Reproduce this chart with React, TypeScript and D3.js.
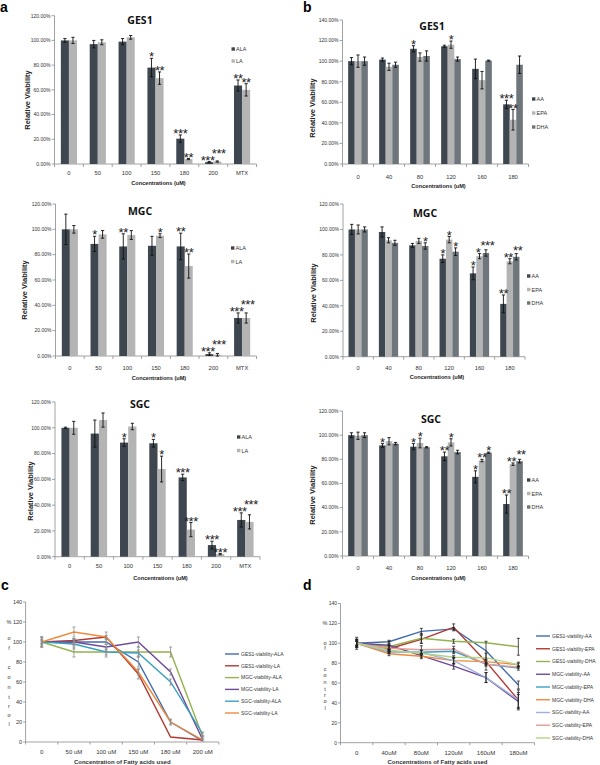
import React from "react";
import * as d3 from "d3";

// ---------- DATA ----------
const catsA = ["0", "50", "100", "150", "180", "200", "MTX"];
const catsB = ["0", "40", "80", "120", "160", "180"];
const catsC = ["0", "50 uM", "100 uM", "150 uM", "180 uM", "200 uM"];
const catsD = ["0", "40uM", "80uM", "120uM", "160uM", "180uM"];

// panel a – GES1
const gesALA = [100, 97, 99, 78, 20.5, 1.5, 63.5];
const gesALAerr = [1.5, 3, 2.5, 7.5, 3, 0.5, 4.5];
const gesALAstar = ["", "", "", "*", "***", "***", "**"];
const gesLA = [100, 98.5, 102.5, 69.5, 4, 2, 60];
const gesLAerr = [2.5, 2, 1.5, 5, 0.5, 0.5, 5];
const gesLAstar = ["", "", "", "**", "**", "***", "**"];
// panel a – MGC
const mgcALA = [100, 88.5, 86.5, 87, 86.5, 1.5, 30];
const mgcALAerr = [12, 6, 10, 7.5, 10.5, 1, 4];
const mgcALAstar = ["", "*", "**", "", "**", "***", "***"];
const mgcLA = [100, 96, 95.5, 95, 71, 1, 30];
const mgcLAerr = [3, 3, 3.5, 1.5, 9.5, 1, 4];
const mgcLAstar = ["", "", "", "*", "**", "***", "***"];
// panel a – SGC
const sgcALA = [100, 95.5, 88.5, 88, 61.5, 9, 28.5];
const sgcALAerr = [0.5, 10.5, 3, 3, 2.5, 3, 5.5];
const sgcALAstar = ["", "", "*", "*", "***", "***", "***"];
const sgcLA = [100, 106, 101, 68, 21, 2, 27];
const sgcLAerr = [5, 5.5, 2.5, 10, 5.5, 0.5, 5.5];
const sgcLAstar = ["", "", "", "*", "***", "***", "***"];

// panel b – GES1
const gesAA = [100, 101.5, 112, 114.5, 92.5, 58];
const gesAAerr = [3.5, 1.5, 3, 1, 9.5, 4];
const gesAAstar = ["", "", "*", "", "", "***"];
const gesEPA = [100, 94.5, 104, 116, 81.5, 43];
const gesEPAerr = [6, 3.5, 4, 3.5, 8.5, 10];
const gesEPAstar = ["", "", "", "*", "", "**"];
const gesDHA = [100, 96.5, 105, 102, 100.5, 96.5];
const gesDHAerr = [4, 2.5, 5, 2, 0.5, 8.5];
const gesDHAstar = ["", "", "", "", "", ""];
// panel b – MGC
const mgcAA = [100, 98, 87.5, 77, 65.5, 41.5];
const mgcAAerr = [4, 4, 1.5, 3, 5, 7];
const mgcAAstar = ["", "", "", "*", "*", "**"];
const mgcEPA = [100, 91.5, 91, 92, 79, 75];
const mgcEPAerr = [3.5, 2, 2, 2.5, 2, 2];
const mgcEPAstar = ["", "", "", "*", "*", "**"];
const mgcDHA = [100, 89.5, 87, 82.5, 81.5, 78.5];
const mgcDHAerr = [2, 2, 2.5, 3, 2.5, 2.5];
const mgcDHAstar = ["", "", "*", "*", "***", "**"];
// panel b – SGC
const sgcAA = [100, 91.5, 90.5, 82.5, 65.5, 43];
const sgcAAerr = [2, 1.5, 2.5, 3.5, 5, 7.5];
const sgcAAstar = ["", "*", "*", "**", "*", "**"];
const sgcEPA = [99.5, 95, 93.5, 94, 79, 76];
const sgcEPAerr = [3, 3, 4, 3, 1, 1];
const sgcEPAstar = ["", "", "*", "*", "**", "**"];
const sgcDHA = [100, 93, 90, 86, 85.5, 78.5];
const sgcDHAerr = [2, 1, 0.5, 1.5, 0.5, 1.5];
const sgcDHAstar = ["", "", "", "", "*", "**"];

// panel c – line chart
const cGesALA = [100, 100, 100, 80, 20, 1];
const cGesALAerr = [5, 3, 2.5, 5, 3, 0.5];
const cGesLA = [100, 101.5, 105, 68, 5, 2];
const cGesLAerr = [2, 2, 1.5, 5, 0.5, 0.5];
const cMgcALA = [100, 90, 90, 90, 90, 5];
const cMgcALAerr = [5, 5, 5, 5, 5, 1];
const cMgcLA = [100, 100, 95, 100, 70, 2];
const cMgcLAerr = [3, 3, 3, 5, 3, 1];
const cSgcALA = [100, 98, 90, 89, 60, 8];
const cSgcALAerr = [1, 5, 3, 3, 3, 2];
const cSgcLA = [100, 110, 105, 70, 20, 2];
const cSgcLAerr = [5, 5, 5, 3, 2, 0.5];

// ---------- STYLE ----------
const SANS = "'Liberation Sans', Arial, sans-serif";
const TITLE = "'Open Sans', 'Liberation Sans', sans-serif";
const DARK = "#3e474f";
const LIGHT = "#b4b4b4";
const MID = "#6e757b";
const AXIS = "#8a8a8a";
const STAR_FS = 13;
const STAR_W = 4.6;

type BarSeries = { name: string; values: number[]; errors: number[]; stars: string[]; color: string };

function BarPanel(p: {
  cats: string[]; series: BarSeries[]; x0: number; x1: number; yZero: number; yTop: number; yMax: number;
  title: string; titleX: number; titleY: number; legX: number; legY: number; legGap: number;
  ylabX: number; ylabY: number; tickY: number; xlabY: number; groupFrac: number;
}) {
  const x = d3.scaleBand<string>().domain(p.cats).range([p.x0, p.x1]);
  const y = d3.scaleLinear().domain([0, p.yMax]).range([p.yZero, p.yTop]);
  const ticks = d3.range(0, p.yMax + 0.01, 20);
  const gw = x.bandwidth() * p.groupFrac;
  const inner = d3.scaleBand<string>().domain(p.series.map((s) => s.name)).range([0, gw]);
  const fmt = (v: number) => d3.format(".2f")(v) + "%";

  // star placement with simple collision avoidance inside each group
  const starMarks: { key: string; x: number; y: number; t: string }[] = [];
  p.cats.forEach((c, i) => {
    const placed: { l: number; r: number; y: number; m: { x: number } }[] = [];
    p.series.forEach((s) => {
      const t = s.stars[i];
      if (!t) return;
      const bx = x(c)! + (x.bandwidth() - gw) / 2 + inner(s.name)!;
      let cx = bx + inner.bandwidth() / 2;
      let cy = y(s.values[i] + s.errors[i]) - 4.5;
      const w = t.length * STAR_W;
      const l = cx - w / 2 + 1.2;
      const r = cx + w / 2 - 1.2;
      placed.forEach((q) => {
        if (l < q.r && r > q.l && Math.abs(cy - q.y) < 7) {
          cy = q.y - 7;
          cx += 1.5;
          q.m.x -= 1.5;
        }
      });
      const m = { key: s.name + c, x: cx, y: cy, t };
      placed.push({ l, r, y: cy, m });
      starMarks.push(m);
    });
  });

  return (
    <g>
      {/* y axis */}
      <line x1={p.x0} x2={p.x0} y1={p.yZero} y2={p.yTop} stroke={AXIS} strokeWidth={0.8} />
      {ticks.map((t) => (
        <g key={t}>
          <line x1={p.x0 - 3} x2={p.x0} y1={y(t)} y2={y(t)} stroke={AXIS} strokeWidth={0.8} />
          <text x={p.x0 - 4} y={y(t) + 1.8} fontSize={5} fontFamily={SANS} textAnchor="end" fill="#333">
            {fmt(t)}
          </text>
        </g>
      ))}
      {/* x axis */}
      <line x1={p.x0} x2={p.x1} y1={p.yZero} y2={p.yZero} stroke={AXIS} strokeWidth={0.8} />
      {p.cats.map((c, i) => (
        <line key={"xt" + i} x1={x(c)!} x2={x(c)!} y1={p.yZero} y2={p.yZero + 3} stroke={AXIS} strokeWidth={0.8} />
      ))}
      <line x1={p.x1} x2={p.x1} y1={p.yZero} y2={p.yZero + 3} stroke={AXIS} strokeWidth={0.8} />
      {p.cats.map((c) => (
        <text key={"xl" + c} x={x(c)! + x.bandwidth() / 2} y={p.tickY} fontSize={5.8} fontFamily={SANS} textAnchor="middle" fill="#333">
          {c}
        </text>
      ))}
      {/* bars */}
      {p.series.map((s) =>
        p.cats.map((c, i) => {
          const bx = x(c)! + (x.bandwidth() - gw) / 2 + inner(s.name)!;
          const bw = inner.bandwidth();
          const cx = bx + bw / 2;
          const v = s.values[i];
          const e = s.errors[i];
          const top = y(v + e);
          return (
            <g key={s.name + c}>
              <rect x={bx} y={y(v)} width={bw} height={p.yZero - y(v)} fill={s.color} />
              <line x1={cx} x2={cx} y1={y(v - e)} y2={top} stroke="#111" strokeWidth={0.9} />
              <line x1={cx - 1.6} x2={cx + 1.6} y1={top} y2={top} stroke="#111" strokeWidth={0.9} />
              <line x1={cx - 1.6} x2={cx + 1.6} y1={y(v - e)} y2={y(v - e)} stroke="#111" strokeWidth={0.9} />
            </g>
          );
        })
      )}
      {starMarks.map((m) => (
        <text key={"st" + m.key} x={m.x} y={m.y + 7.6} fontSize={STAR_FS} fontFamily={SANS} textAnchor="middle" fill="#222" letterSpacing={-0.4}>
          {m.t}
        </text>
      ))}
      {/* title */}
      <text x={p.titleX} y={p.titleY} fontSize={10.5} fontWeight="bold" fontFamily={TITLE} textAnchor="middle" fill="#111">
        {p.title}
      </text>
      {/* y label */}
      <text transform={`translate(${p.ylabX},${p.ylabY}) rotate(-90)`} fontSize={7.5} fontWeight="bold" fontFamily={SANS} textAnchor="middle" dy="0.35em" fill="#222">
        Relative Viability
      </text>
      {/* x label */}
      <text x={(p.x0 + p.x1) / 2 + 3} y={p.xlabY} fontSize={5.6} fontWeight="bold" fontFamily={SANS} textAnchor="middle" fill="#222">
        Concentrations (uM)
      </text>
      {/* legend */}
      {p.series.map((s, i) => (
        <g key={"lg" + s.name}>
          <rect x={p.legX} y={p.legY + i * p.legGap - 1.7} width={3.4} height={3.4} fill={s.color} />
          <text x={p.legX + 4.5} y={p.legY + i * p.legGap + 2} fontSize={5.5} fontFamily={SANS} fill="#333">
            {s.name}
          </text>
        </g>
      ))}
    </g>
  );
}

type LineSeries = { name: string; values: number[]; errors: number[]; color: string };

function LinePanel(p: {
  cats: string[]; series: LineSeries[]; x0: number; x1: number; yZero: number; yTop: number;
  legX: number; legY: number; legGap: number; ylabX: number; ylabYs: number[]; tickY: number; xlabY: number;
  xlabel: string; errColor: string; tickFs: number;
}) {
  const x = d3.scalePoint<string>().domain(p.cats).range([p.x0, p.x1]).padding(0.5);
  const y = d3.scaleLinear().domain([0, 140]).range([p.yZero, p.yTop]);
  const ticks = d3.range(0, 141, 20);
  const step = x.step();
  const line = d3.line<number>().x((_, i) => x(p.cats[i])!).y((d) => y(d));
  const letters = ["%", "o", "f", "c", "o", "n", "t", "r", "o", "l"];
  return (
    <g>
      <line x1={p.x0} x2={p.x0} y1={p.yZero} y2={p.yTop} stroke={AXIS} strokeWidth={0.8} />
      {ticks.map((t) => (
        <g key={t}>
          <line x1={p.x0 - 2.5} x2={p.x0} y1={y(t)} y2={y(t)} stroke={AXIS} strokeWidth={0.8} />
          <text x={p.x0 - 3.5} y={y(t) + 1.8} fontSize={p.tickFs} fontFamily={SANS} textAnchor="end" fill="#333">
            {t}
          </text>
        </g>
      ))}
      <line x1={p.x0} x2={p.x1} y1={p.yZero} y2={p.yZero} stroke={AXIS} strokeWidth={0.8} />
      {d3.range(p.cats.length + 1).map((i) => (
        <line key={"xt" + i} x1={p.x0 + i * step} x2={p.x0 + i * step} y1={p.yZero} y2={p.yZero + 2.5} stroke={AXIS} strokeWidth={0.8} />
      ))}
      {p.cats.map((c) => (
        <text key={"xl" + c} x={x(c)!} y={p.tickY} fontSize={6} fontFamily={SANS} textAnchor="middle" fill="#333">
          {c}
        </text>
      ))}
      {p.series.map((s) => (
        <path key={s.name} d={line(s.values)!} fill="none" stroke={s.color} strokeWidth={1.4} />
      ))}
      {p.series.map((s) =>
        s.values.map((v, i) => {
          const cx = x(p.cats[i])!;
          const e = s.errors[i];
          if (e < 0.8) return null;
          return (
            <g key={s.name + i}>
              <line x1={cx} x2={cx} y1={y(v - e)} y2={y(v + e)} stroke={p.errColor} strokeWidth={0.8} />
              <line x1={cx - 1.5} x2={cx + 1.5} y1={y(v + e)} y2={y(v + e)} stroke={p.errColor} strokeWidth={0.8} />
              <line x1={cx - 1.5} x2={cx + 1.5} y1={y(v - e)} y2={y(v - e)} stroke={p.errColor} strokeWidth={0.8} />
            </g>
          );
        })
      )}
      {letters.map((l, i) => (
        <text key={"yl" + i} x={p.ylabX} y={p.ylabYs[i]} fontSize={5.5} fontFamily={SANS} textAnchor="middle" fill="#333">
          {l}
        </text>
      ))}
      <text x={(p.x0 + p.x1) / 2} y={p.xlabY} fontSize={6} fontWeight="bold" fontFamily={SANS} textAnchor="middle" fill="#333">
        {p.xlabel}
      </text>
      {p.series.map((s, i) => (
        <g key={"lg" + s.name}>
          <line x1={p.legX} x2={p.legX + 14} y1={p.legY + i * p.legGap} y2={p.legY + i * p.legGap} stroke={s.color} strokeWidth={1.4} />
          <text x={p.legX + 16} y={p.legY + i * p.legGap + 1.8} fontSize={5} fontFamily={SANS} fill="#333">
            {s.name}
          </text>
        </g>
      ))}
    </g>
  );
}

export default function App() {
  const sA = (a: number[], ae: number[], as: string[], b: number[], be: number[], bs: string[]): BarSeries[] => [
    { name: "ALA", values: a, errors: ae, stars: as, color: DARK },
    { name: "LA", values: b, errors: be, stars: bs, color: LIGHT },
  ];
  const sB = (a: number[], ae: number[], as: string[], b: number[], be: number[], bs: string[], c: number[], ce: number[], cs: string[]): BarSeries[] => [
    { name: "AA", values: a, errors: ae, stars: as, color: DARK },
    { name: "EPA", values: b, errors: be, stars: bs, color: LIGHT },
    { name: "DHA", values: c, errors: ce, stars: cs, color: MID },
  ];
  const lineC: LineSeries[] = [
    { name: "GES1-viability-ALA", values: cGesALA, errors: cGesALAerr, color: "#3f6cb0" },
    { name: "GES1-viability-LA", values: cGesLA, errors: cGesLAerr, color: "#b23a33" },
    { name: "MGC-viability-ALA", values: cMgcALA, errors: cMgcALAerr, color: "#93b34e" },
    { name: "MGC-viability-LA", values: cMgcLA, errors: cMgcLAerr, color: "#6e4a98" },
    { name: "SGC-viability-ALA", values: cSgcALA, errors: cSgcALAerr, color: "#3aa0c2" },
    { name: "SGC-viability-LA", values: cSgcLA, errors: cSgcLAerr, color: "#f08a3a" },
  ];
  const lineD: LineSeries[] = [
    { name: "GES1-viability-AA", values: gesAA, errors: gesAAerr, color: "#3f6cb0" },
    { name: "GES1-viability-EPA", values: gesEPA, errors: gesEPAerr, color: "#b23a33" },
    { name: "GES1-viability-DHA", values: gesDHA, errors: gesDHAerr, color: "#93b34e" },
    { name: "MGC-viability-AA", values: mgcAA, errors: mgcAAerr, color: "#6e4a98" },
    { name: "MGC-viability-EPA", values: mgcEPA, errors: mgcEPAerr, color: "#3aa0c2" },
    { name: "MGC-viability-DHA", values: mgcDHA, errors: mgcDHAerr, color: "#f08a3a" },
    { name: "SGC-viability-AA", values: sgcAA, errors: sgcAAerr, color: "#9fb1de" },
    { name: "SGC-viability-EPA", values: sgcEPA, errors: sgcEPAerr, color: "#e79a97" },
    { name: "SGC-viability-DHA", values: sgcDHA, errors: sgcDHAerr, color: "#b3d486" },
  ];
  return (
    <svg width={600} height={765} style={{ position: "absolute", left: 0, top: 0, background: "#fff" }}>
      <rect width={600} height={765} fill="#fff" />
      <text x={0} y={12} fontSize={14} fontWeight="bold" fontFamily={SANS}>a</text>
      <text x={303} y={12} fontSize={14} fontWeight="bold" fontFamily={SANS}>b</text>
      <text x={1} y={590} fontSize={14} fontWeight="bold" fontFamily={SANS}>c</text>
      <text x={303} y={590} fontSize={14} fontWeight="bold" fontFamily={SANS}>d</text>

      <BarPanel cats={catsA} series={sA(gesALA, gesALAerr, gesALAstar, gesLA, gesLAerr, gesLAstar)}
        x0={54.5} x1={256.5} yZero={164} yTop={15.7} yMax={120} title="GES1" titleX={140} titleY={24}
        legX={231.5} legY={49} legGap={12} ylabX={27} ylabY={100} tickY={175} xlabY={185} groupFrac={0.56} />
      <BarPanel cats={catsA} series={sA(mgcALA, mgcALAerr, mgcALAstar, mgcLA, mgcLAerr, mgcLAstar)}
        x0={55.5} x1={256.5} yZero={356} yTop={204} yMax={120} title="MGC" titleX={140} titleY={215}
        legX={231} legY={248} legGap={13.5} ylabX={24} ylabY={290} tickY={370} xlabY={380} groupFrac={0.56} />
      <BarPanel cats={catsA} series={sA(sgcALA, sgcALAerr, sgcALAstar, sgcLA, sgcLAerr, sgcLAstar)}
        x0={55} x1={260} yZero={556.7} yTop={402} yMax={120} title="SGC" titleX={140} titleY={408}
        legX={237} legY={437} legGap={13.5} ylabX={30} ylabY={491} tickY={568} xlabY={580} groupFrac={0.56} />

      <BarPanel cats={catsB} series={sB(gesAA, gesAAerr, gesAAstar, gesEPA, gesEPAerr, gesEPAstar, gesDHA, gesDHAerr, gesDHAstar)}
        x0={342.5} x1={528.5} yZero={164} yTop={20} yMax={140} title="GES1" titleX={432} titleY={30}
        legX={532} legY={99} legGap={14} ylabX={312} ylabY={108} tickY={178.5} xlabY={188} groupFrac={0.635} />
      <BarPanel cats={catsB} series={sB(mgcAA, mgcAAerr, mgcAAstar, mgcEPA, mgcEPAerr, mgcEPAstar, mgcDHA, mgcDHAerr, mgcDHAstar)}
        x0={343} x1={525} yZero={356.7} yTop={204} yMax={120} title="MGC" titleX={425} titleY={217}
        legX={527} legY={276} legGap={13.5} ylabX={313} ylabY={293} tickY={370} xlabY={379} groupFrac={0.635} />
      <BarPanel cats={catsB} series={sB(sgcAA, sgcAAerr, sgcAAstar, sgcEPA, sgcEPAerr, sgcEPAstar, sgcDHA, sgcDHAerr, sgcDHAstar)}
        x0={342.5} x1={528.5} yZero={556} yTop={411} yMax={120} title="SGC" titleX={431} titleY={423}
        legX={527} legY={480} legGap={13.5} ylabX={312} ylabY={495} tickY={570} xlabY={580} groupFrac={0.635} />

      <LinePanel cats={catsC} series={lineC} x0={25.6} x1={218.9} yZero={742} yTop={602}
        legX={225} legY={654} legGap={11.8} ylabX={9}
        ylabYs={[624, 640, 650, 669, 679, 689, 699, 708, 717, 726]}
        tickY={754} xlabY={764} xlabel="Concentration of Fatty acids used" errColor="#8c8c8c" tickFs={5.5} />
      <LinePanel cats={catsD} series={lineD} x0={340.5} x1={534.5} yZero={742.7} yTop={603.5}
        legX={536} legY={636} legGap={12.75} ylabX={325}
        ylabYs={[625, 645, 650, 671, 677, 684, 691, 697, 703, 710]}
        tickY={755} xlabY={764} xlabel="Concentrations of Fatty acids used" errColor="#222" tickFs={5} />
    </svg>
  );
}
